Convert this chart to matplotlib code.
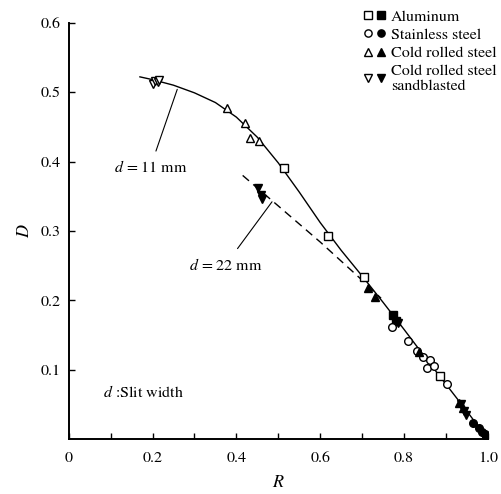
import matplotlib
matplotlib.use('Agg')
import matplotlib.pyplot as plt
from matplotlib.legend_handler import HandlerTuple

plt.rcParams['font.family'] = 'STIXGeneral'
plt.rcParams['mathtext.fontset'] = 'stix'

# d = 11 mm curve (solid)
curve11_r = [0.17, 0.20, 0.25, 0.30, 0.35, 0.40, 0.45, 0.50, 0.55, 0.60, 0.65, 0.70, 0.75, 0.80, 0.85, 0.90, 0.95, 1.00]
curve11_d = [0.522, 0.518, 0.510, 0.499, 0.485, 0.464, 0.435, 0.398, 0.356, 0.312, 0.272, 0.235, 0.197, 0.158, 0.118, 0.079, 0.040, 0.000]

# d = 22 mm curve (dashed)
curve22_r = [0.415, 0.50, 0.60, 0.70, 0.745]
curve22_d = [0.380, 0.336, 0.284, 0.229, 0.203]

# aluminum
al_open_r = [0.513, 0.619, 0.705, 0.886]
al_open_d = [0.390, 0.293, 0.233, 0.091]
al_fill_r = [0.774, 0.781]
al_fill_d = [0.179, 0.170]

# stainless steel
ss_open_r = [0.771, 0.810, 0.830, 0.845, 0.862, 0.854, 0.871, 0.902]
ss_open_d = [0.161, 0.141, 0.127, 0.118, 0.114, 0.103, 0.105, 0.079]
ss_fill_r = [0.965, 0.978, 0.986, 0.992, 0.996, 0.999]
ss_fill_d = [0.024, 0.016, 0.011, 0.007, 0.004, 0.001]

# cold rolled steel
cr_open_r = [0.378, 0.420, 0.433, 0.455]
cr_open_d = [0.477, 0.456, 0.434, 0.430]
cr_fill_r = [0.714, 0.730, 0.835, 0.930, 0.940]
cr_fill_d = [0.218, 0.205, 0.125, 0.052, 0.045]

# cold rolled steel sandblasted
sb_open_r = [0.200, 0.205, 0.212, 0.216]
sb_open_d = [0.512, 0.516, 0.514, 0.518]
sb_fill_r = [0.452, 0.458, 0.462, 0.785, 0.935, 0.942, 0.948]
sb_fill_d = [0.362, 0.352, 0.346, 0.168, 0.050, 0.041, 0.035]

fig = plt.figure(figsize=(5.01, 4.94), dpi=100)
ax = fig.add_axes([0.137, 0.111, 0.837, 0.843])

ax.plot(curve11_r, curve11_d, color='k', linewidth=1.0)
ax.plot(curve22_r, curve22_d, color='k', linewidth=1.0, linestyle=(0, (6, 4)))

ms = 5.5
kw_open = dict(linestyle='none', markerfacecolor='white', markeredgecolor='k', markeredgewidth=1.0, markersize=ms)
kw_fill = dict(linestyle='none', color='k', markersize=ms)

h1o, = ax.plot(al_open_r, al_open_d, 's', **kw_open)
h1f, = ax.plot(al_fill_r, al_fill_d, 's', **kw_fill)
h2o, = ax.plot(ss_open_r, ss_open_d, 'o', **kw_open)
h2f, = ax.plot(ss_fill_r, ss_fill_d, 'o', **kw_fill)
h3o, = ax.plot(cr_open_r, cr_open_d, '^', **kw_open)
h3f, = ax.plot(cr_fill_r, cr_fill_d, '^', **kw_fill)
h4o, = ax.plot(sb_open_r, sb_open_d, 'v', **kw_open)
h4f, = ax.plot(sb_fill_r, sb_fill_d, 'v', **kw_fill)

fig.legend([(h1o, h1f), (h2o, h2f), (h3o, h3f), (h4o, h4f)],
           ['Aluminum', 'Stainless steel', 'Cold rolled steel', 'Cold rolled steel\nsandblasted'],
           handler_map={tuple: HandlerTuple(ndivide=None, pad=0.3)},
           loc='upper left', bbox_to_anchor=(0.705, 1.003), frameon=False,
           fontsize=11.5, handlelength=1.3, handletextpad=0.35, labelspacing=0.25,
           borderpad=0.2, markerscale=0.95)

ax.annotate('$d$ = 11 mm', xy=(0.259, 0.504), xytext=(0.195, 0.392),
            ha='center', va='center', fontsize=11.5,
            arrowprops=dict(arrowstyle='-', color='k', linewidth=0.8, shrinkA=4, shrinkB=0))
ax.annotate('$d$ = 22 mm', xy=(0.485, 0.342), xytext=(0.374, 0.251),
            ha='center', va='center', fontsize=11.5,
            arrowprops=dict(arrowstyle='-', color='k', linewidth=0.8, shrinkA=5, shrinkB=0))
ax.text(0.081, 0.068, '$d$ :Slit width', ha='left', va='center', fontsize=11.5)

ax.set_xlim(0, 1.0)
ax.set_ylim(0, 0.6)
ax.spines['top'].set_visible(False)
ax.spines['right'].set_visible(False)
ax.spines['left'].set_linewidth(1.4)
ax.spines['bottom'].set_linewidth(1.4)

ax.set_xticks([0, 0.2, 0.4, 0.6, 0.8, 1.0])
ax.set_xticklabels(['0', '0.2', '0.4', '0.6', '0.8', '1.0'])
ax.set_xticks([0.1, 0.3, 0.5, 0.7, 0.9], minor=True)
ax.set_yticks([0.1, 0.2, 0.3, 0.4, 0.5, 0.6])
ax.set_yticklabels(['0.1', '0.2', '0.3', '0.4', '0.5', '0.6'])
ax.tick_params(axis='both', which='both', direction='in', length=4, width=1.0, labelsize=11.5)
ax.tick_params(axis='x', which='both', pad=9)
ax.tick_params(axis='y', pad=6)

ax.set_xlabel('$R$', fontsize=13, labelpad=7)
ax.set_ylabel('$D$', fontsize=13, labelpad=5)

fig.savefig('out.png', dpi=100)
